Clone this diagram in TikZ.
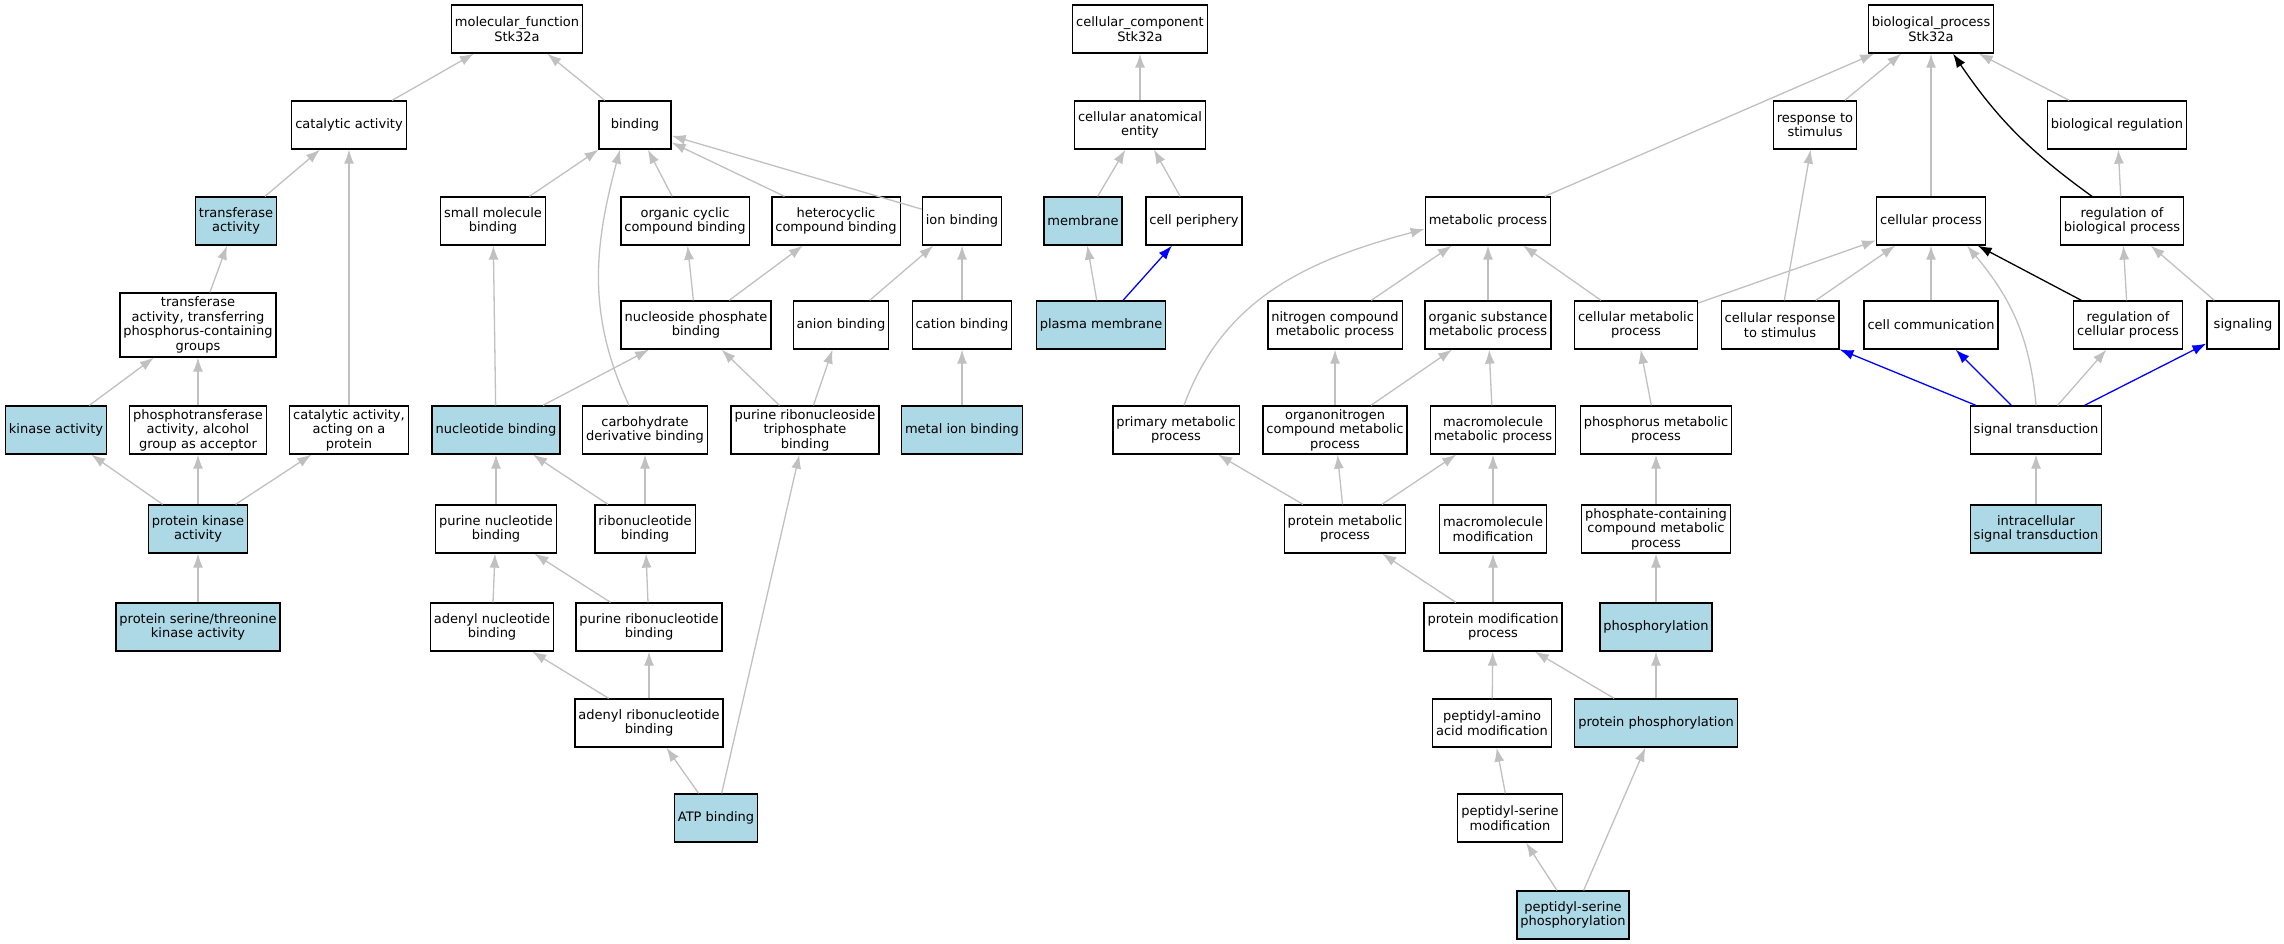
\documentclass[tikz,border=0pt]{standalone}
\usepackage{fontspec}
\setmainfont{DejaVu Sans}
\usepackage{xcolor}
\usetikzlibrary{arrows.meta}
\usetikzlibrary{calc}
\definecolor{isagray}{RGB}{192,192,192}
\definecolor{hitblue}{RGB}{173,216,230}
\newcommand{\termfont}{\fontsize{13pt}{14.5pt}\selectfont}
\tikzstyle{term} = [rectangle, draw=black, line width=1.3pt, fill=white, align=center, font=\termfont, inner xsep=3.5pt, inner ysep=2pt, minimum width=72pt, minimum height=48pt]
\tikzstyle{hit} = [term, fill=hitblue]
\tikzstyle{line} = [draw, -{Latex[length=14pt,width=10pt]}, line width=1.3pt, isagray]
\tikzstyle{blueline} = [line, blue]
\tikzstyle{blackline} = [line, black]
\begin{document}
\begin{tikzpicture}[x=1pt, y=1pt]
\useasboundingbox (0,0) rectangle (2284,-944);

% molecular function
\node [term] (mf) at (517,-29) {molecular\_function\\Stk32a};
\node [term] (cat) at (349,-125) {catalytic activity};
\node [term] (bind) at (635,-125) {binding};
\node [hit] (transf) at (236,-221) {transferase\\activity};
\node [term] (smb) at (493,-221) {small molecule\\binding};
\node [term] (occb) at (685,-221) {organic cyclic\\compound binding};
\node [term] (hcb) at (836,-221) {heterocyclic\\compound binding};
\node [term] (ionb) at (962,-221) {ion binding};
\node [term, minimum height=64pt] (ttp) at (198,-325) {transferase\\activity, transferring\\phosphorus-containing\\groups};
\node [term] (npb) at (696,-325) {nucleoside phosphate\\binding};
\node [term] (anb) at (841,-325) {anion binding};
\node [term] (catb) at (962,-325) {cation binding};
\node [hit] (kin) at (56,-430) {kinase activity};
\node [term] (ptr) at (198,-430) {phosphotransferase\\activity, alcohol\\group as acceptor};
\node [term] (cap) at (349,-430) {catalytic activity,\\acting on a\\protein};
\node [hit] (nucb) at (496,-430) {nucleotide binding};
\node [term] (cdb) at (645,-430) {carbohydrate\\derivative binding};
\node [term] (prtb) at (805,-430) {purine ribonucleoside\\triphosphate\\binding};
\node [hit] (mib) at (962,-430) {metal ion binding};
\node [hit] (pka) at (198,-529) {protein kinase\\activity};
\node [term] (pnb) at (496,-529) {purine nucleotide\\binding};
\node [term] (rnb) at (645,-529) {ribonucleotide\\binding};
\node [hit] (pst) at (198,-627) {protein serine/threonine\\kinase activity};
\node [term] (adnb) at (492,-627) {adenyl nucleotide\\binding};
\node [term] (prb) at (649,-627) {purine ribonucleotide\\binding};
\node [term] (arb) at (649,-723) {adenyl ribonucleotide\\binding};
\node [hit] (atp) at (716,-818) {ATP binding};

% cellular component
\node [term] (cc) at (1140,-29) {cellular\_component\\Stk32a};
\node [term] (cae) at (1140,-125) {cellular anatomical\\entity};
\node [hit] (mem) at (1083,-221) {membrane};
\node [term] (cper) at (1194,-221) {cell periphery};
\node [hit] (pm) at (1101,-325) {plasma membrane};

% biological process
\node [term] (bp) at (1931,-29) {biological\_process\\Stk32a};
\node [term] (rts) at (1815,-125) {response to\\stimulus};
\node [term] (breg) at (2117,-125) {biological regulation};
\node [term] (mp) at (1488,-221) {metabolic process};
\node [term] (cp) at (1931,-221) {cellular process};
\node [term] (rbp) at (2122,-221) {regulation of\\biological process};
\node [term] (ncmp) at (1335,-325) {nitrogen compound\\metabolic process};
\node [term] (osmp) at (1488,-325) {organic substance\\metabolic process};
\node [term] (cmp) at (1636,-325) {cellular metabolic\\process};
\node [term] (crs) at (1780,-325) {cellular response\\to stimulus};
\node [term] (ccom) at (1931,-325) {cell communication};
\node [term] (rcp) at (2128,-325) {regulation of\\cellular process};
\node [term] (sig) at (2243,-325) {signaling};
\node [term] (pmp) at (1176,-430) {primary metabolic\\process};
\node [term] (oncmp) at (1335,-430) {organonitrogen\\compound metabolic\\process};
\node [term] (mmp) at (1493,-430) {macromolecule\\metabolic process};
\node [term] (phmp) at (1656,-430) {phosphorus metabolic\\process};
\node [term] (st) at (2036,-430) {signal transduction};
\node [term] (prmp) at (1345,-529) {protein metabolic\\process};
\node [term] (mmod) at (1493,-529) {macromolecule\\modification};
\node [term] (pcmp) at (1656,-529) {phosphate-containing\\compound metabolic\\process};
\node [hit] (ist) at (2036,-529) {intracellular\\signal transduction};
\node [term] (pmod) at (1493,-627) {protein modification\\process};
\node [hit] (phos) at (1656,-627) {phosphorylation};
\node [term] (pam) at (1492,-723) {peptidyl-amino\\acid modification};
\node [hit] (pphos) at (1656,-723) {protein phosphorylation};
\node [term] (psm) at (1510,-818) {peptidyl-serine\\modification};
\node [hit] (psp) at (1573,-915) {peptidyl-serine\\phosphorylation};

% molecular function edges
\path [line] (cat) -- (mf);
\path [line] (bind) -- (mf);
\path [line] (transf) -- (cat);
\path [line] (cap) -- (cat);
\path [line] (smb) -- (bind);
\path [line] ($(cdb.north)+(-16,0)$) to [out=115, in=-105] ($(bind.south)+(-15,0)$);
\path [line] (occb) -- (bind);
\path [line] (hcb) -- (bind);
\path [line] (ionb) -- (bind);
\path [line] (ttp) -- (transf);
\path [line] (kin) -- (ttp);
\path [line] (ptr) -- (ttp);
\path [line] (pka) -- (kin);
\path [line] (pka) -- (ptr);
\path [line] (pka) -- (cap);
\path [line] (pst) -- (pka);
\path [line] (nucb) -- (smb);
\path [line] (nucb) -- (npb);
\path [line] (npb) -- (occb);
\path [line] (npb) -- (hcb);
\path [line] (anb) -- (ionb);
\path [line] (catb) -- (ionb);
\path [line] (mib) -- (catb);
\path [line] (prtb) -- (npb);
\path [line] (prtb) -- (anb);
\path [line] (pnb) -- (nucb);
\path [line] (rnb) -- (nucb);
\path [line] (rnb) -- (cdb);
\path [line] (adnb) -- (pnb);
\path [line] (prb) -- (pnb);
\path [line] (prb) -- (rnb);
\path [line] (arb) -- (adnb);
\path [line] (arb) -- (prb);
\path [line] (atp) -- (arb);
\path [line] (atp) -- (prtb);

% cellular component edges
\path [line] (cae) -- (cc);
\path [line] (mem) -- (cae);
\path [line] (cper) -- (cae);
\path [line] (pm) -- (mem);
\path [blueline] (pm) -- (cper);

% biological process edges
\path [line] (mp) -- (bp);
\path [line] (rts) -- (bp);
\path [line] (cp) -- (bp);
\path [blackline] ($(rbp.north)+(-30,0)$) to [bend left=10] ($(bp.south)+(22,0)$);
\path [line] (breg) -- (bp);
\path [line] (rbp) -- (breg);
\path [line] (ncmp) -- (mp);
\path [line] (osmp) -- (mp);
\path [line] (cmp) -- (mp);
\path [line] ($(pmp.north)+(8,0)$) to [out=70, in=195] ($(mp.west)+(0,-8)$);
\path [line] (cmp) -- (cp);
\path [line] (crs) -- (cp);
\path [line] (crs) -- (rts);
\path [line] (ccom) -- (cp);
\path [line] (st.north) to [out=95, in=-50] ($(cp.south)+(36,0)$);
\path [blackline] (rcp) -- (cp);
\path [line] (rcp) -- (rbp);
\path [line] (sig) -- (rbp);
\path [blueline] (st) -- (crs);
\path [blueline] (st) -- (ccom);
\path [line] (st) -- (rcp);
\path [blueline] (st) -- (sig);
\path [line] (ist) -- (st);
\path [line] (oncmp) -- (ncmp);
\path [line] (oncmp) -- (osmp);
\path [line] (mmp) -- (osmp);
\path [line] (phmp) -- (cmp);
\path [line] (prmp) -- (pmp);
\path [line] (prmp) -- (oncmp);
\path [line] (prmp) -- (mmp);
\path [line] (mmod) -- (mmp);
\path [line] (pcmp) -- (phmp);
\path [line] (pmod) -- (prmp);
\path [line] (pmod) -- (mmod);
\path [line] (phos) -- (pcmp);
\path [line] (pam) -- (pmod);
\path [line] (pphos) -- (pmod);
\path [line] (pphos) -- (phos);
\path [line] (psm) -- (pam);
\path [line] (psp) -- (psm);
\path [line] (psp) -- (pphos);

\end{tikzpicture}
\end{document}
